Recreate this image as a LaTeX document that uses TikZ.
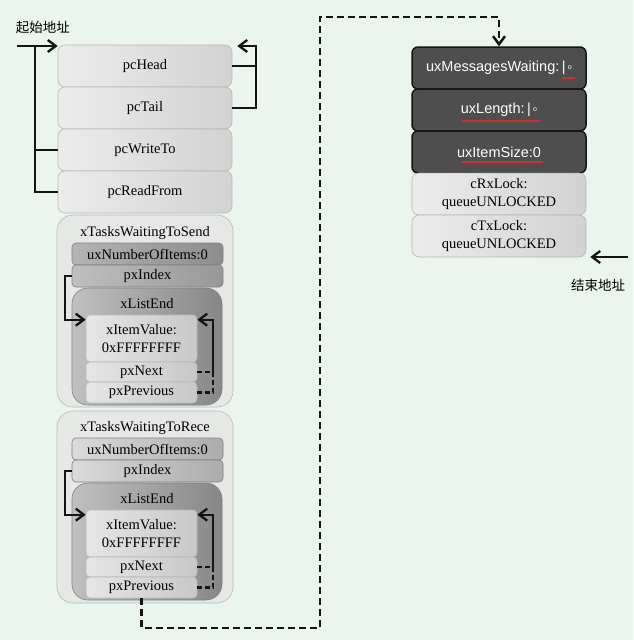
\documentclass[tikz,border=0pt]{standalone}
\usepackage{fontspec}
\setmainfont{Liberation Serif}
\newfontfamily\sansfont{Liberation Sans}
\newfontfamily\cjkfont{Noto Sans CJK SC}
\usetikzlibrary{positioning,arrows.meta,calc}
\definecolor{colorpaper}      {RGB}{233,245,237}
\definecolor{colorblack}      {RGB}{ 20, 20, 20}
\definecolor{colorcellleft}   {RGB}{236,236,236}
\definecolor{colorcellright}  {RGB}{210,210,210}
\definecolor{colorcelledge}   {RGB}{185,185,185}
\definecolor{colorlist}       {RGB}{230,232,230}
\definecolor{colorcountleft}  {RGB}{180,180,180}
\definecolor{colorcountright} {RGB}{140,140,140}
\definecolor{colorlcountleft} {RGB}{218,218,218}
\definecolor{colorlcountright}{RGB}{172,172,172}
\definecolor{colorendleft}    {RGB}{192,192,192}
\definecolor{colorendright}   {RGB}{135,135,135}
\definecolor{coloritemleft}   {RGB}{230,230,230}
\definecolor{coloritemright}  {RGB}{200,200,200}
\definecolor{colordark}       {RGB}{ 78, 78, 78}
\definecolor{colorred}        {RGB}{200, 50, 45}

\begin{document}
\begin{tikzpicture}[
    x=1pt, y=-1pt, thick,
    font=\fontsize{14.5}{18}\selectfont,
    >={Straight Barb[length=8pt,width=12pt]},
    title/.style={inner sep=0pt},
    cnlabel/.style={inner sep=0pt,font=\cjkfont\fontsize{13.5}{15}\selectfont},
    cell/.style={draw=colorcelledge,line width=0.6pt,rounded corners=7pt,left color=colorcellleft,right color=colorcellright,minimum width=174,minimum height=42,inner sep=0pt,align=center},
    darkcell/.style={draw=colorblack,line width=1.5pt,rounded corners=6pt,fill=colordark,text=white,minimum width=174,minimum height=42,inner sep=0pt,font=\sansfont\fontsize{14.5}{18}\selectfont},
    listbox/.style={draw=colorcelledge,line width=0.6pt,rounded corners=16pt,fill=colorlist,minimum width=176,minimum height=192,inner sep=0pt},
    countbox/.style={draw=gray,line width=0.6pt,rounded corners=4pt,minimum width=151,minimum height=22,inner sep=0pt},
    endbox/.style={draw=gray,line width=0.6pt,rounded corners=16pt,left color=colorendleft,right color=colorendright,minimum width=150,minimum height=117,inner sep=0pt},
    itembox/.style={draw=colorcelledge,line width=0.6pt,rounded corners=4pt,left color=coloritemleft,right color=coloritemright,minimum width=111,inner sep=0pt,align=center},
    ptr/.style={colorblack,line width=2.3pt},
    dashptr/.style={colorblack,line width=2.3pt,dash pattern=on 5pt off 3pt},
    jump/.style={colorblack,line width=2.5pt,dash pattern=on 7pt off 4pt},
    redline/.style={colorred,line width=2pt},
]

    % Paper
    \fill[colorpaper] (0,0) rectangle (633,640);
    \useasboundingbox (0,0) rectangle (633,640);

    % Queue pointers
    \node[cell] at (145,66) (head) {pcHead};
    \node[cell] at (145,108) (tail) {pcTail};
    \node[cell] at (145,150) (writeto) {pcWriteTo};
    \node[cell] at (145,192) (readfrom) {pcReadFrom};
    \node[cnlabel] at (43,27) (startlbl) {起始地址};

    % xTasksWaitingToSend
    \node[listbox] at (145,311) (sendlist) {};
    \node[title] at (145,233) (sendtitle) {xTasksWaitingToSend};
    \node[countbox,left color=colorcountleft,right color=colorcountright] at (147.5,254) (sendcount) {uxNumberOfItems:0};
    \node[countbox,left color=colorcountleft!85,right color=colorcountright!90] at (147.5,276) (sendindex) {pxIndex};
    \node[endbox] at (147,346.5) (sendend) {};
    \node[title] at (147,304) (sendendtitle) {xListEnd};
    \node[itembox,minimum height=47] at (141.5,338.5) (sendvalue) {xItemValue:\\0xFFFFFFFF};
    \node[itembox,minimum height=20] at (141.5,372) (sendnext) {pxNext};
    \node[itembox,minimum height=21] at (141.5,392.5) (sendprev) {pxPrevious};

    % xTasksWaitingToReceive
    \node[listbox] at (145,507) (recvlist) {};
    \node[title] at (145,428) (recvtitle) {xTasksWaitingToRece};
    \node[countbox,left color=colorlcountleft,right color=colorlcountright] at (147.5,449) (recvcount) {uxNumberOfItems:0};
    \node[countbox,left color=colorlcountleft,right color=colorlcountright] at (147.5,471) (recvindex) {pxIndex};
    \node[endbox] at (147,541.5) (recvend) {};
    \node[title] at (147,499) (recvendtitle) {xListEnd};
    \node[itembox,minimum height=47] at (141.5,533.5) (recvvalue) {xItemValue:\\0xFFFFFFFF};
    \node[itembox,minimum height=20] at (141.5,567) (recvnext) {pxNext};
    \node[itembox,minimum height=21] at (141.5,587.5) (recvprev) {pxPrevious};

    % Counters and locks
    \node[darkcell] at (499,68) (msgs) {uxMessagesWaiting:\,|\,\raisebox{2pt}{\scriptsize o}};
    \node[darkcell] at (499,110) (len) {uxLength:\,|\,\raisebox{2pt}{\scriptsize o}};
    \node[darkcell] at (499,152) (isize) {uxItemSize:0};
    \node[cell] at (499,194) (rxlock) {cRxLock:\\queueUNLOCKED};
    \node[cell] at (499,236) (txlock) {cTxLock:\\queueUNLOCKED};
    \node[cnlabel] at (598,285) (endlbl) {结束地址};
    \draw[redline] (562,78) -- (575,78);
    \draw[redline] (462,121) -- (540,121);
    \draw[redline] (462,162) -- (543,162);

    % Arrows
    \coordinate (startin) at (17,46);
    \coordinate (startbar) at (35,46);
    \coordinate (headbar) at (256,46);
    \coordinate (endin) at (628,257);
    \coordinate (lowturn) at (320,628);
    \coordinate (highturn) at (320,17);
    \draw[ptr,->] (startin) -- (startin -| head.west); % start address
    \draw[ptr] (readfrom.west) -| (startbar); % read from
    \draw[ptr] (writeto.west) -- (writeto.west -| startbar); % write to
    \draw[ptr,->,shorten >=5pt] (tail.east) -| (headbar) -- (headbar -| head.east); % tail
    \draw[ptr] (head.east) -- (head.east -| headbar); % head
    \draw[ptr,->,shorten >=4pt] (endin) -- (endin -| txlock.east); % end address

    \draw[ptr,->] (sendindex.west) -- ++(-7,0) |- ($(sendvalue.north west)+(0,5)$);
    \draw[dashptr] (sendnext.east) -- ++(16,0) coordinate (sendnextbar);
    \draw[ptr,->] (sendnextbar) |- ($(sendvalue.north east)+(0,5)$);
    \draw[dashptr] (sendprev.east) -| (sendnextbar);

    \draw[ptr,->] (recvindex.west) -- ++(-7,0) |- ($(recvvalue.north west)+(0,5)$);
    \draw[dashptr] (recvnext.east) -- ++(16,0) coordinate (recvnextbar);
    \draw[ptr,->] (recvnextbar) |- ($(recvvalue.north east)+(0,5)$);
    \draw[dashptr] (recvprev.east) -| (recvnextbar);

    \draw[jump,->] (recvprev.south) |- (lowturn) -- (highturn) -| (msgs.north); % lists to counters

\end{tikzpicture}
\end{document}
